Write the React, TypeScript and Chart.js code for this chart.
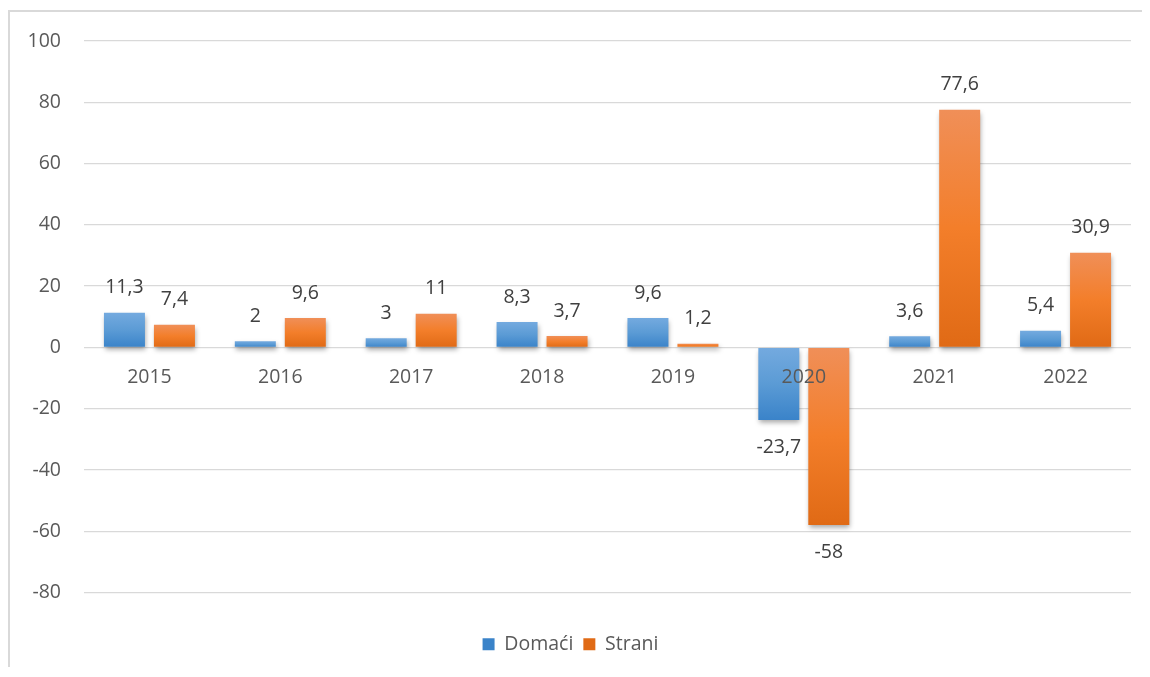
import React, { useEffect, useRef } from "react";
import { Chart, registerables } from "chart.js";

Chart.register(...registerables);

const categories = ["2015", "2016", "2017", "2018", "2019", "2020", "2021", "2022"];
const domaci = [11.3, 2, 3, 8.3, 9.6, -23.7, 3.6, 5.4];
const strani = [7.4, 9.6, 11, 3.7, 1.2, -58, 77.6, 30.9];
const seriesNames = ["Domaći", "Strani"];
const yMin = -80;
const yMax = 100;
const yStep = 20;

const FONT = "'Open Sans', 'Noto Sans', sans-serif";
const FS = 19.5;

const makeGradient = (top: string, mid: string, bottom: string) => (ctx: any) => {
  if (ctx.type !== "data") return mid;
  const chart = ctx.chart;
  const ys = chart.scales && chart.scales.y;
  if (!ys || !chart.chartArea) return mid;
  const v = ctx.raw as number;
  const y0 = ys.getPixelForValue(Math.max(v, 0));
  const y1 = ys.getPixelForValue(Math.min(v, 0));
  if (!isFinite(y0) || !isFinite(y1) || Math.abs(y1 - y0) < 1) return mid;
  const g = chart.ctx.createLinearGradient(0, y0, 0, y1);
  g.addColorStop(0, top);
  g.addColorStop(0.5, mid);
  g.addColorStop(1, bottom);
  return g;
};

const shadowPlugin = {
  id: "barShadow",
  beforeDatasetsDraw(chart: any) {
    const c = chart.ctx;
    c.save();
    c.shadowColor = "rgba(0,0,0,0.35)";
    c.shadowBlur = 5;
    c.shadowOffsetX = 1;
    c.shadowOffsetY = 3;
  },
  afterDatasetsDraw(chart: any) {
    chart.ctx.restore();
  },
};

const labelPlugin = {
  id: "valueLabels",
  afterDatasetsDraw(chart: any) {
    const c = chart.ctx;
    c.save();
    c.font = `${FS}px ${FONT}`;
    c.fillStyle = "#404040";
    c.textAlign = "center";
    c.textBaseline = "middle";
    chart.data.datasets.forEach((ds: any, di: number) => {
      const meta = chart.getDatasetMeta(di);
      meta.data.forEach((bar: any, i: number) => {
        const v = ds.data[i] as number;
        const txt = String(v).replace(".", ",");
        const y = v >= 0 ? bar.y - 25 : bar.y + 27;
        c.fillText(txt, bar.x, y);
      });
    });
    c.restore();
  },
};

export default function App() {
  const ref = useRef<HTMLCanvasElement | null>(null);
  useEffect(() => {
    document.body.style.overflow = "hidden";
    if (!ref.current) return;
    const chart = new Chart(ref.current, {
      type: "bar",
      data: {
        labels: categories,
        datasets: [
          {
            label: seriesNames[0],
            data: domaci,
            backgroundColor: makeGradient("#74aadf", "#5b9bd5", "#3a83c9"),
            borderWidth: 0,
            categoryPercentage: 0.764,
            barPercentage: 0.82,
          },
          {
            label: seriesNames[1],
            data: strani,
            backgroundColor: makeGradient("#f08f58", "#f37e2a", "#e06a15"),
            borderWidth: 0,
            categoryPercentage: 0.764,
            barPercentage: 0.82,
          },
        ],
      },
      options: {
        animation: false,
        responsive: true,
        maintainAspectRatio: false,
        layout: { padding: { top: 29, right: 11, left: 0, bottom: 3 } },
        plugins: {
          tooltip: { enabled: false },
          legend: {
            position: "bottom",
            labels: {
              boxWidth: 12,
              boxHeight: 12,
              padding: 10,
              color: "#595959",
              font: { family: FONT, size: FS },
            },
          },
        },
        scales: {
          y: {
            min: yMin,
            max: yMax,
            afterFit: (s: any) => {
              s.width = 74;
            },
            ticks: {
              stepSize: yStep,
              padding: 0,
              color: "#595959",
              font: { family: FONT, size: FS },
            },
            grid: {
              color: "#d9d9d9",
              lineWidth: 1.3,
              drawTicks: true,
              tickLength: 23,
              tickColor: "rgba(0,0,0,0)",
            },
            border: { display: false },
          },
          x: {
            position: { y: 0 } as any,
            grid: { display: false },
            border: { display: false },
            ticks: {
              z: 1,
              padding: 10,
              color: "#595959",
              font: { family: FONT, size: FS },
            },
          },
          x2: {
            type: "category",
            position: "bottom",
            labels: categories,
            grid: { display: false },
            border: { display: false },
            ticks: { display: false },
            afterFit: (s: any) => {
              s.height = 32;
            },
          },
        },
      },
      plugins: [shadowPlugin, labelPlugin],
    });
    return () => chart.destroy();
  }, []);
  return (
    <div
      style={{
        marginTop: 2,
        borderLeft: "2px solid #d9d9d9",
        borderTop: "2px solid #d9d9d9",
        width: 1132,
        height: 655,
        position: "relative",
      }}
    >
      <canvas ref={ref} />
    </div>
  );
}
